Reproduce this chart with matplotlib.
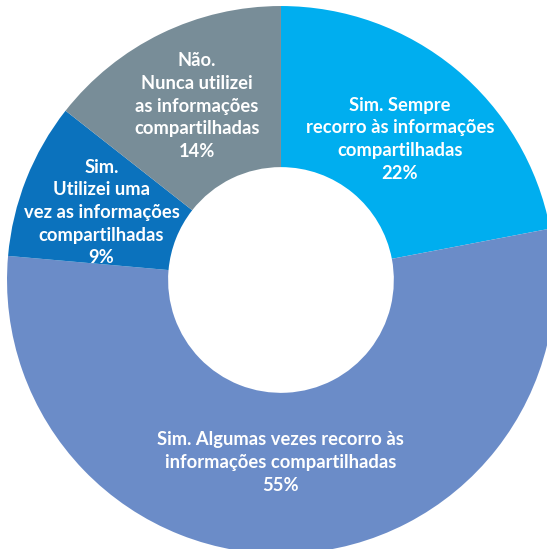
import numpy as np
import matplotlib.pyplot as plt

labels = [
    "Sim. Sempre\nrecorro às informações\ncompartilhadas",
    "Sim. Algumas vezes recorro às\ninformações compartilhadas",
    "Sim.\nUtilizei uma\nvez as informações\ncompartilhadas",
    "Não.\nNunca utilizei\nas informações\ncompartilhadas",
]
values = [22.0, 54.4, 9.2, 14.4]
pct_labels = ["22%", "55%", "9%", "14%"]
colors = ["#00aeef", "#6b8cc8", "#0b72bd", "#788d98"]

# label placement (radius, angle in degrees)
label_r = [0.673, 0.666, 0.70, 0.705]
label_ang = [49.8, -90.2, 159.4, 115.8]

fig = plt.figure(figsize=(5.47, 5.49), dpi=100)
ax = fig.add_axes([0, 0, 1, 1])

wedges, _ = ax.pie(values, colors=colors, startangle=90, counterclock=False,
                   radius=1.0, wedgeprops=dict(width=0.588, linewidth=0))

for lab, pct, r, a in zip(labels, pct_labels, label_r, label_ang):
    t = np.deg2rad(a)
    ax.text(r * np.cos(t), r * np.sin(t), f"{lab}\n{pct}",
            ha="center", va="center", color="white", fontsize=13.2,
            fontweight="bold", family="Lato", linespacing=1.4)

ax.set_aspect("equal")
ax.set_xlim(-1.0255, 0.971)
ax.set_ylim(-0.982, 1.022)
ax.axis("off")

plt.savefig("out.png", dpi=100)
plt.close()
